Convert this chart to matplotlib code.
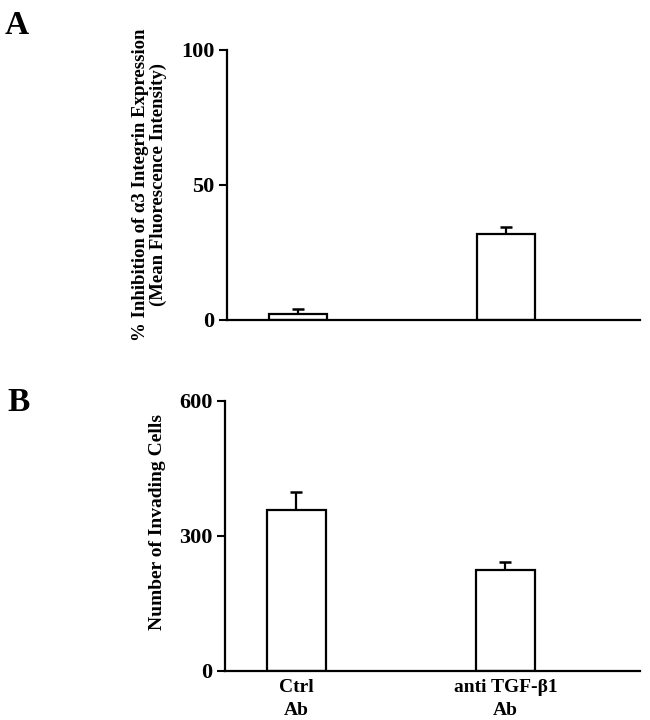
import numpy as np
import matplotlib
matplotlib.use("Agg")
import matplotlib.pyplot as plt

plt.rcParams['font.family'] = ['Liberation Serif', 'DejaVu Serif']
plt.rcParams['font.weight'] = 'bold'

# data
groups = ["Ctrl\nAb", "anti TGF-\u03b21\nAb"]
inhibition = [2.2, 32.0]
inhibition_err = [2.0, 2.4]
invading = [356, 223]
invading_err = [42, 19]

x = np.array([1.0, 2.0])
bar_w = 0.28


def style_axis(ax, ymax, yticks):
    ax.spines['top'].set_visible(False)
    ax.spines['right'].set_visible(False)
    ax.spines['left'].set_linewidth(1.6)
    ax.spines['bottom'].set_linewidth(1.6)
    ax.set_xlim(0.659, 2.644)
    ax.set_ylim(0, ymax)
    ax.set_yticks(yticks)
    ax.tick_params(axis='y', length=6, width=1.5, pad=3, labelsize=16)
    ax.tick_params(axis='x', length=0, pad=6, labelsize=14)


def draw_bars(ax, vals, errs):
    ax.bar(x, vals, width=bar_w, color='white', edgecolor='black', linewidth=1.6, zorder=2)
    ax.errorbar(x, vals, yerr=[np.zeros(len(errs)), errs], fmt='none', ecolor='black',
                elinewidth=1.6, capsize=4, capthick=1.8, zorder=1)


fig = plt.figure(figsize=(6.5, 7.2), dpi=100)

ax_a = fig.add_axes([0.349, 0.5556, 0.636, 0.375])
draw_bars(ax_a, inhibition, inhibition_err)
style_axis(ax_a, 100, [0, 50, 100])
ax_a.set_xticks([])
ax_a.set_ylabel("% Inhibition of \u03b13 Integrin Expression\n(Mean Fluorescence Intensity)",
                fontsize=13.5, fontweight='bold', linespacing=1.1)
ax_a.yaxis.set_label_coords(-0.144, 0.5)

ax_b = fig.add_axes([0.346, 0.0685, 0.639, 0.375])
draw_bars(ax_b, invading, invading_err)
style_axis(ax_b, 600, [0, 300, 600])
ax_b.set_xticks(x)
ax_b.set_xticklabels(groups, fontweight='bold', linespacing=1.45)
ax_b.set_ylabel("Number of Invading Cells", fontsize=14, fontweight='bold')
ax_b.yaxis.set_label_coords(-0.141, 0.55)

fig.text(0.007, 0.964, "A", fontsize=24, fontweight='bold', va='center', ha='left')
fig.text(0.012, 0.441, "B", fontsize=24, fontweight='bold', va='center', ha='left')

fig.savefig("out.png", dpi=100)
